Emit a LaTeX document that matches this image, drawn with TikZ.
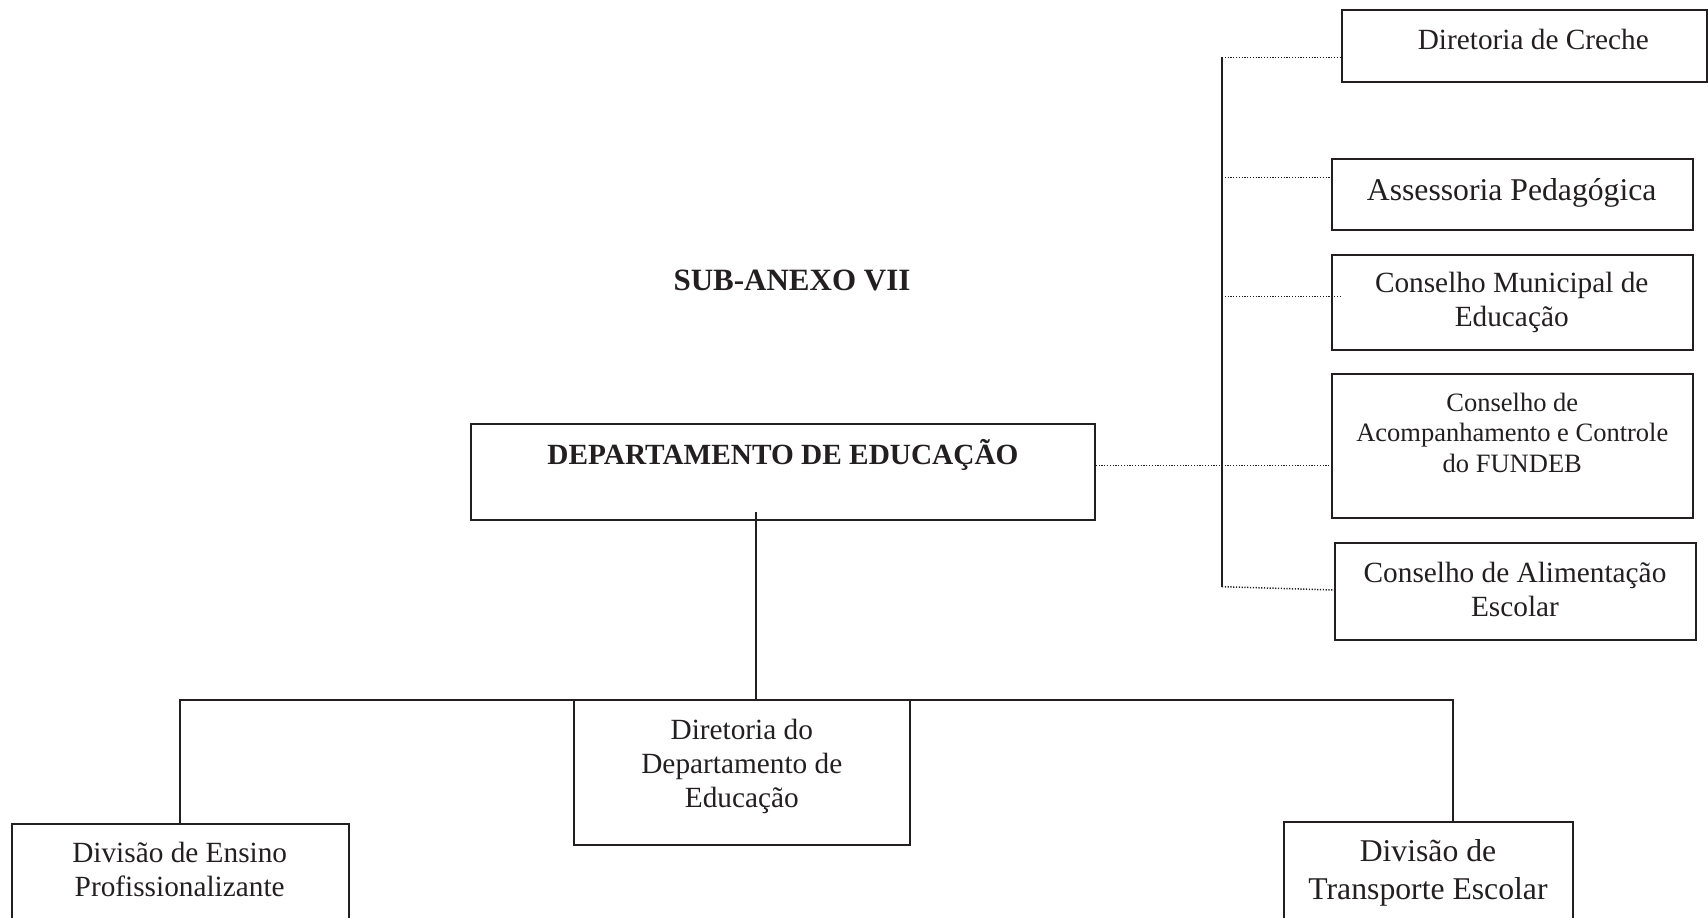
\documentclass[tikz,border=0pt]{standalone}
\usepackage{fontspec}
\setmainfont{Liberation Serif}
\definecolor{ink}{HTML}{231F20}
\begin{document}
\begin{tikzpicture}[x=1pt,y=-1pt,
  box/.style={draw=ink, line width=2pt, rectangle, inner sep=0pt},
  txt/.style={text=ink, align=center, inner sep=0pt, font=\fontsize{29.3}{34}\selectfont},
  bigtxt/.style={txt, font=\fontsize{31.7}{38}\selectfont},
  smalltxt/.style={txt, font=\fontsize{26.5}{30.5}\selectfont},
  boldtxt/.style={txt, font=\fontsize{29.3}{34}\selectfont\bfseries},
  bigbold/.style={txt, font=\fontsize{31}{36}\selectfont\bfseries},
  link/.style={draw=ink, line width=2pt},
  dotline/.style={draw=ink, line width=1.5pt, dash pattern=on 1.2pt off 1.6pt}
]
\useasboundingbox (0,0) rectangle (1708,918);
\clip (0,0) rectangle (1708,918);

% boxes
\node[box, minimum width=364.8pt, minimum height=71.7pt] (creche) at (1524.1,45.85) {};
\node[box, minimum width=361pt, minimum height=71pt] (asses) at (1512.2,194.5) {};
\node[box, minimum width=360.7pt, minimum height=95pt] (cmun) at (1512.35,302.5) {};
\node[box, minimum width=360.7pt, minimum height=144pt] (fundeb) at (1512.35,446.3) {};
\node[box, minimum width=360.7pt, minimum height=96.7pt] (alim) at (1515.35,591.65) {};
\node[box, minimum width=624.2pt, minimum height=95.9pt] (depto) at (782.7,471.65) {};
\node[box, minimum width=335.6pt, minimum height=144.6pt] (dirdep) at (741.8,772.7) {};
\node[box, minimum width=336.6pt, minimum height=136.5pt] (ensino) at (180.3,891.75) {};
\node[box, minimum width=288.7pt, minimum height=138.3pt] (transp) at (1428.35,890.85) {};

% texts
\node[bigbold] (sub) at (792,280) {SUB-ANEXO VII};
\node[boldtxt] (deptot) at (783,455) {DEPARTAMENTO DE EDUCAÇÃO};
\node[txt] (crechet) at (1533.3,39.5) {Diretoria de Creche};
\node[bigtxt] (assest) at (1511.7,192.5) {Assessoria Pedagógica};
\node[txt] (cmunt) at (1511.7,302.5) {Conselho Municipal de\\Educação};
\node[smalltxt] (fundebt) at (1512.3,432.5) {Conselho de\\Acompanhamento e Controle\\do FUNDEB};
\node[txt] (alimt) at (1515,589.5) {Conselho de Alimentação\\Escolar};
\node[txt] (dirdept) at (741.8,766.5) {Diretoria do\\Departamento de\\Educação};
\node[txt] (ensinot) at (179.7,869.5) {Divisão de Ensino\\Profissionalizante};
\node[bigtxt] (transpt) at (1428,873) {Divisão de\\Transporte Escolar};

% right bus
\coordinate (bt) at (1222,57.3);
\coordinate (b2) at (1222,177.3);
\coordinate (b3) at (1222,296.7);
\coordinate (bb) at (1222,586.7);
\draw[link] (bt) -- (bb);
\draw[dotline] (bt) -- (bt -| creche.west);
\draw[dotline] (b2) -- (b2 -| asses.west);
\draw[dotline] (b3) -- ([xshift=10.7pt]b3 -| cmun.west);
\coordinate (f0) at ([yshift=6pt]depto.east);
\draw[dotline] (f0) -- (f0 -| fundeb.west);
\draw[dotline] (bb) -- ([yshift=1.65pt]alim.west);

% lower tree
\coordinate (dv) at (756,512);
\coordinate (hb) at (756,700.4);
\coordinate (hl) at (179.7,700.4);
\coordinate (hr) at (1453,700.4);
\draw[link] (dv) -- (hb);
\draw[link] (hl |- ensino.north) -- (hl) -- (hr) -- (hr |- transp.north);
\end{tikzpicture}
\end{document}
